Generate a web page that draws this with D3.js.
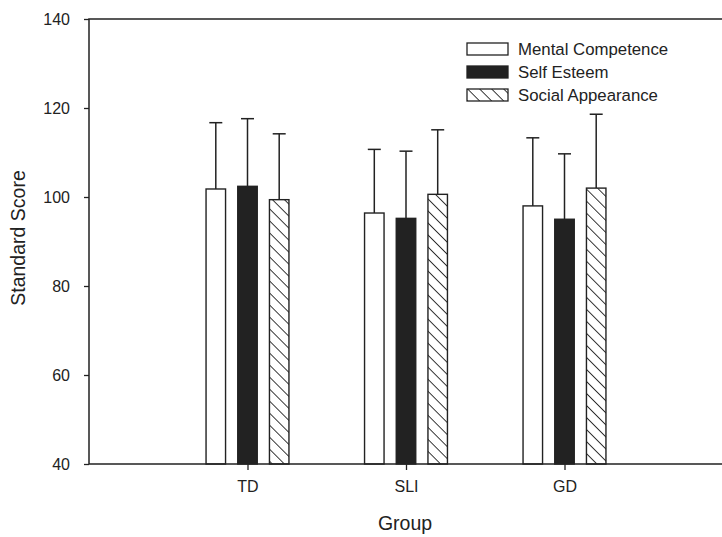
<!DOCTYPE html>
<html>
<head>
<meta charset="utf-8">
<script src="https://cdn.jsdelivr.net/npm/d3@7"></script>
<style>
  body { margin: 0; background: #fff; }
  svg { display: block; font-family: "Liberation Sans", Arial, sans-serif; }
</style>
</head>
<body>
<svg id="plot"></svg>
<script>
// data
const groups = ["TD", "SLI", "GD"];
const seriesNames = ["Mental Competence", "Self Esteem", "Social Appearance"];
const means = [
  [101.8, 96.4, 98.0],   // Mental Competence
  [102.4, 95.2, 95.0],   // Self Esteem
  [99.4, 100.6, 102.0]   // Social Appearance
];
const upper = [
  [116.7, 110.7, 113.3],
  [117.6, 110.3, 109.7],
  [114.2, 115.1, 118.6]
];
const yTicks = [40, 60, 80, 100, 120, 140];

let dims = {
  width: 722,
  height: 537,
  left: 89,
  right: 723,
  top: 19,
  bottom: 464
};

const svg = d3.select("#plot")
  .attr("width", dims.width)
  .attr("height", dims.height);

// diagonal hatch, lines running top-left to bottom-right
const defs = svg.append("defs");
const pat = defs.append("pattern")
  .attr("id", "hatch")
  .attr("patternUnits", "userSpaceOnUse")
  .attr("width", 8.5)
  .attr("height", 8.5)
  .attr("patternTransform", "rotate(-45)");
pat.append("rect").attr("width", 8.5).attr("height", 8.5).attr("fill", "#fff");
pat.append("line")
  .attr("x1", 0).attr("y1", 0).attr("x2", 0).attr("y2", 8.5)
  .attr("stroke", "#222").attr("stroke-width", 1.8);

const yScale = d3.scaleLinear().domain([40, 140]).range([dims.bottom, dims.top]);
const xScale = d3.scaleLinear().domain([0, 4]).range([dims.left, dims.right]);

const fills = ["#fff", "#222", "url(#hatch)"];
const pitch = 31.7, barW = 19.5, capW = 13;

// bars + error bars
seriesNames.forEach((name, s) => {
  const g = svg.append("g");
  const cx = (i) => xScale(i + 1) + (s - 1) * pitch;
  g.selectAll("line.err")
    .data(groups)
    .join("line")
    .attr("x1", (d, i) => cx(i)).attr("x2", (d, i) => cx(i))
    .attr("y1", (d, i) => yScale(means[s][i]))
    .attr("y2", (d, i) => yScale(upper[s][i]))
    .attr("stroke", "#222").attr("stroke-width", 1.5);
  g.selectAll("line.cap")
    .data(groups)
    .join("line")
    .attr("x1", (d, i) => cx(i) - capW / 2).attr("x2", (d, i) => cx(i) + capW / 2)
    .attr("y1", (d, i) => yScale(upper[s][i]))
    .attr("y2", (d, i) => yScale(upper[s][i]))
    .attr("stroke", "#222").attr("stroke-width", 1.5);
  g.selectAll("rect")
    .data(groups)
    .join("rect")
    .attr("x", (d, i) => cx(i) - barW / 2)
    .attr("width", barW)
    .attr("y", (d, i) => yScale(means[s][i]))
    .attr("height", (d, i) => dims.bottom - yScale(means[s][i]))
    .attr("fill", fills[s])
    .attr("stroke", "#222").attr("stroke-width", 1.4);
});

// axes
const yAxis = d3.axisLeft(yScale).tickValues(yTicks).tickSize(5).tickPadding(14);
svg.append("g")
  .attr("transform", `translate(${dims.left},0)`)
  .call(yAxis)
  .call(g => g.select(".domain").remove())
  .call(g => g.selectAll("line").attr("stroke", "#222").attr("stroke-width", 1.3))
  .call(g => g.selectAll("text").attr("font-size", 16).attr("fill", "#222").attr("font-family", "Liberation Sans, Arial, sans-serif"));

const xAxis = d3.axisBottom(xScale).tickValues([1, 2, 3]).tickFormat(d => groups[d - 1]).tickSize(6).tickPadding(11);
svg.append("g")
  .attr("transform", `translate(0,${dims.bottom})`)
  .call(xAxis)
  .call(g => g.select(".domain").remove())
  .call(g => g.selectAll("line").attr("stroke", "#222").attr("stroke-width", 1.3))
  .call(g => g.selectAll("text").attr("font-size", 16).attr("fill", "#222").attr("font-family", "Liberation Sans, Arial, sans-serif"));

// frame: top, left, bottom
svg.append("path")
  .attr("d", `M${dims.right},${dims.top}H${dims.left}V${dims.bottom}H${dims.right}`)
  .attr("fill", "none").attr("stroke", "#222").attr("stroke-width", 1.5);

// axis titles
svg.append("text")
  .attr("transform", `translate(25,238) rotate(-90)`)
  .attr("text-anchor", "middle")
  .attr("font-size", 19.5).attr("fill", "#222")
  .text("Standard Score");
svg.append("text")
  .attr("x", 405).attr("y", 530)
  .attr("text-anchor", "middle")
  .attr("font-size", 19.5).attr("fill", "#222")
  .text("Group");

// legend
const legend = svg.append("g").attr("transform", "translate(467,43)");
seriesNames.forEach((name, s) => {
  const row = legend.append("g").attr("transform", `translate(0,${s * 23})`);
  row.append("rect")
    .attr("width", 41).attr("height", 12)
    .attr("fill", fills[s]).attr("stroke", "#222").attr("stroke-width", 1.3);
  row.append("text")
    .attr("x", 51).attr("y", 11.5)
    .attr("font-size", 16.8).attr("fill", "#222")
    .text(name);
});
</script>
</body>
</html>
